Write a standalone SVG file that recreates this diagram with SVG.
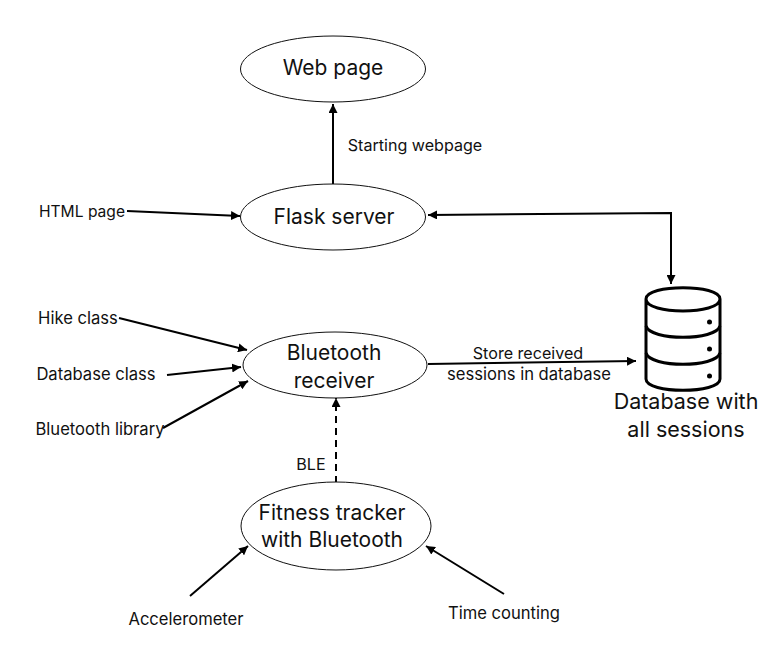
<svg xmlns="http://www.w3.org/2000/svg" width="777" height="668" viewBox="0 0 777 668">
<style>
text{font-family:"Inter","Open Sans","Liberation Sans",sans-serif;fill:#111;text-anchor:middle}
.n{font-size:21px}.s{font-size:16.100px}.l{font-size:16.600px}.h{font-size:15.600px}.d{font-size:21.500px}
.e{fill:#fff;stroke:#111;stroke-width:1}
.c{fill:none;stroke:#000;stroke-width:2}
.db{fill:none;stroke:#000;stroke-width:3}
</style>
<defs><marker id="a" markerUnits="userSpaceOnUse" markerWidth="10" markerHeight="9" refX="9" refY="4.5" orient="auto-start-reverse"><path d="M0 0L9 4.5L0 9z" fill="#000"/></marker></defs>
<rect width="777" height="668" fill="#fff"/>
<g id="connectors">
<path class="c" d="M333 184V104" marker-end="url(#a)"/>
<path class="c" d="M127 211L240 216" marker-end="url(#a)"/>
<path class="c" d="M428 215L671 213V284" marker-start="url(#a)" marker-end="url(#a)"/>
<path class="c" d="M119 318L247 350" marker-end="url(#a)"/>
<path class="c" d="M167 375L241 367" marker-end="url(#a)"/>
<path class="c" d="M163 428L248 381" marker-end="url(#a)"/>
<path class="c" d="M428 364L636 361" marker-end="url(#a)"/>
<path class="c" stroke-dasharray="7 5" d="M336 483V398" marker-end="url(#a)"/>
<path class="c" d="M190 596L248 546" marker-end="url(#a)"/>
<path class="c" d="M504 594L426 546" marker-end="url(#a)"/>
</g>
<g id="web-page"><ellipse class="e" cx="333" cy="69" rx="92.500" ry="33"/><text class="n" x="333" y="75">Web page</text></g>
<g id="flask-server"><ellipse class="e" cx="333" cy="217" rx="92.500" ry="33"/><text class="n" x="334" y="224">Flask server</text></g>
<g id="bluetooth-receiver"><ellipse class="e" cx="335" cy="365" rx="92" ry="33"/><text class="n" x="334" y="360">Bluetooth</text><text class="n" x="334" y="388">receiver</text></g>
<g id="fitness-tracker"><ellipse class="e" cx="336" cy="526" rx="95" ry="44"/><text class="n" x="332" y="520">Fitness tracker</text><text class="n" x="332" y="547">with Bluetooth</text></g>
<g id="database">
<path class="db" d="M646 299C646 284 720 284 720 299C720 315 646 315 646 299V379C646 394 720 394 720 379V299"/>
<path class="db" d="M646 326C650 341 716 341 720 326M646 353C650 368 716 368 720 353"/>
<circle cx="709.500" cy="322" r="2.500"/><circle cx="709.500" cy="349" r="2.500"/><circle cx="709.500" cy="376" r="2.500"/>
<text class="d" x="686" y="409">Database with</text><text class="d" x="686" y="437">all sessions</text>
</g>
<g id="labels">
<text class="s" x="415" y="151">Starting webpage</text>
<text class="h" x="82" y="217">HTML page</text>
<text class="l" x="78" y="324">Hike class</text>
<text class="l" x="96" y="380">Database class</text>
<text class="l" x="100" y="435">Bluetooth library</text>
<text class="s" x="528" y="359">Store received</text>
<text class="l" x="529" y="380">sessions in database</text>
<text class="s" x="311" y="470">BLE</text>
<text class="l" x="186" y="625">Accelerometer</text>
<text class="l" x="504" y="619">Time counting</text>
</g>
</svg>
